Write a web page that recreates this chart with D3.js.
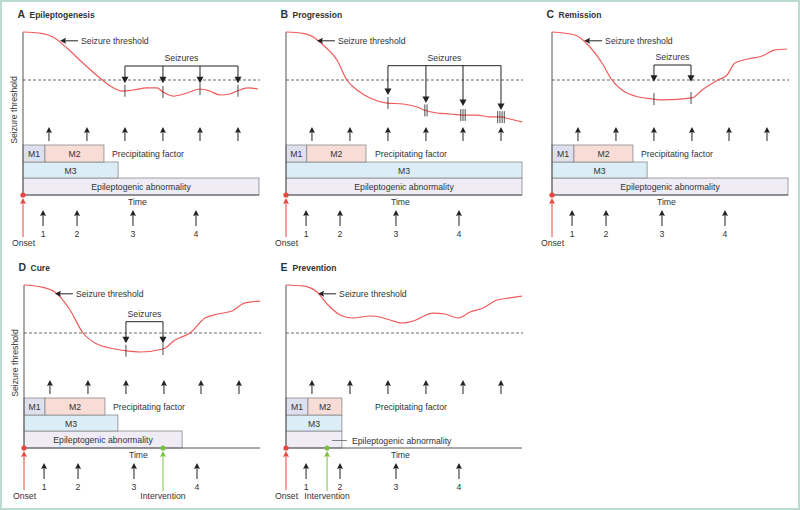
<!DOCTYPE html>
<html><head><meta charset="utf-8">
<script src="https://cdn.jsdelivr.net/npm/d3@7"></script>
<style>
body{margin:0;background:#fff}
svg{display:block}
text{font-family:"Liberation Sans",Arial,sans-serif;fill:#333}
</style>
</head><body>
<svg id="c" width="800" height="510"></svg>
<script>
// ---------- data ----------
const panelLetters = ["A", "B", "C", "D", "E"];
const panelTitles = ["Epileptogenesis", "Progression", "Remission", "Cure", "Prevention"];

// seizure threshold curves: [time (0-100), threshold level (0-10)]
const thresholdA = [[0,10],[7.9,9.86],[12.7,9.48],[18.6,8.33],[25.4,6.77],[32.6,5.21],[37.7,4.27],[41.9,3.85],[46.6,3.96],[52.5,4.17],[56.8,4.17],[59.3,3.75],[63.6,3.33],[69.5,3.65],[75,4.06],[79.2,3.85],[83.5,3.44],[87.7,3.54],[90.7,3.85],[95.3,4.17],[99.6,4.06]];
const thresholdB = [[0,10],[7.2,9.86],[11.4,9.51],[15.7,8.65],[21.6,7.08],[25.8,5],[30.1,3.96],[35.6,3.13],[42.8,2.6],[49.6,2.5],[55.5,2.19],[58.5,1.88],[64,1.56],[69.5,1.46],[74.6,1.35],[80.9,1.35],[86.4,1.15],[90.7,1.15],[94.9,0.94],[100,0.63]];
const thresholdC = [[0,10],[9.7,9.69],[15.3,8.65],[21.2,6.77],[25.4,5],[30.9,3.75],[35.2,3.33],[42.8,3.02],[47,2.92],[59.3,3.13],[63.6,3.96],[70.3,5],[74.2,5.52],[77.5,6.77],[83.1,7.19],[89,7.5],[94.5,8.13],[99.6,8.23]];
const thresholdD = [[0,10],[6.8,9.82],[13.1,9.27],[19.5,7.4],[25,5],[30.1,3.96],[38.6,3.33],[43.6,3.13],[49.2,3.02],[58.9,3.33],[64,4.27],[70.3,5],[76.7,6.56],[82.2,6.98],[88.1,7.29],[93.6,8.13],[100,8.33]];
const thresholdE = [[0,10],[7.2,9.9],[13.1,9.27],[17.8,7.92],[22.9,6.88],[28.4,6.56],[35.6,6.77],[39.8,6.67],[44.1,6.35],[49.2,6.04],[53.8,6.25],[62.3,7.08],[67.4,6.98],[72.9,6.56],[78,7.19],[83.5,7.6],[89.4,8.44],[94.9,8.65],[100,8.85]];

const seizureLevel = 5;

const seizuresA = [43.2, 59.3, 75, 91.1];
const seizureTipsA = [4.66, 4.66, 4.66, 4.66];
const seizuresB = [43.2, 59.3, 75, 91.1];
const seizureTipsB = [3.44, 2.6, 2.29, 1.88];
const seizureTicksB = [1, 2, 3, 4];
const seizuresC = [43.2, 58.9];
const seizureTipsC = [4.83, 4.83];
const seizuresD = [43.2, 58.9];
const seizureTipsD = [3.93, 3.93];
const seizuresE = [];
const seizureTipsE = [];

const precipTimes = [11, 27.1, 43.2, 59.3, 75, 91.1];
const markerTimes = [8.5, 22.9, 46.6, 73.3];
const markerLabels = ["1", "2", "3", "4"];

const m1End = [9.3, 8.8, 9.3, 8.9, 9.3];
const m2End = [34.3, 33.9, 34.3, 34.3, 23.7];
const m3End = [40.3, 100, 40.3, 39.8, 23.7];
const epiEnd = [100, 100, 100, 67, 23.7];
const interventionTime = [null, null, null, 58.9, 17.4];

// ---------- layout ----------
const origins = [[23,32],[286,32],[552,32],[24,285],[286,285]];
const annotT = [15.7, 13.1, 13.6, 13.1, 13.6];
const bracketY = [34, 33.7, 33, 36.7, 0];
const curves = [thresholdA, thresholdB, thresholdC, thresholdD, thresholdE];
const seizureSets = [seizuresA, seizuresB, seizuresC, seizuresD, seizuresE];
const tipSets = [seizureTipsA, seizureTipsB, seizureTipsC, seizureTipsD, seizureTipsE];
const tickSets = [null, seizureTicksB, null, null, null];

const x = d3.scaleLinear().domain([0, 100]).range([0, 236]);
const y = d3.scaleLinear().domain([0, 10]).range([96, 0]);

const BASE = 163;
const FS = 8.7;
const RED = "#e8453c", CURVE = "#ef5b5b", GREEN = "#7cc242", INK = "#222", AX = "#555";

const svg = d3.select("#c");
svg.append("rect").attr("x", 1).attr("y", 1).attr("width", 798).attr("height", 508)
  .attr("fill", "none").attr("stroke", "#bcdccf").attr("stroke-width", 2);

function valAt(data, t) {
  for (let i = 0; i < data.length - 1; i++) {
    const a = data[i], b = data[i + 1];
    if (t >= a[0] && t <= b[0]) return a[1] + (b[1] - a[1]) * (t - a[0]) / (b[0] - a[0]);
  }
  return data[data.length - 1][1];
}

function upArrow(g, px, top, bottom, color, head) {
  head = head || 6;
  g.append("path").attr("d", `M${px},${top} L${px + 3},${top + head} L${px},${top + head - 1} L${px - 3},${top + head} Z`).attr("fill", color);
  g.append("line").attr("x1", px).attr("x2", px).attr("y1", top + head - 1).attr("y2", bottom)
    .attr("stroke", color).attr("stroke-width", 1);
}

panelLetters.forEach((letter, i) => {
  const [ox, oy] = origins[i];
  const g = svg.append("g").attr("transform", `translate(${ox},${oy})`);

  // title
  g.append("text").attr("x", -5.5).attr("y", -14).attr("font-size", 10.5).attr("font-weight", "bold").text(letter);
  g.append("text").attr("x", 6.5).attr("y", -14).attr("font-size", 8.5).attr("font-weight", "bold").text(panelTitles[i]);

  // y-axis label
  if (i === 0 || i === 3) {
    g.append("text").attr("transform", `translate(-6,78) rotate(-90)`).attr("text-anchor", "middle")
      .attr("font-size", FS).text("Seizure threshold");
  }

  // boxes
  const box = (x0, x1, y0, y1, fill) => g.append("rect").attr("x", x(x0)).attr("y", y0)
    .attr("width", x(x1) - x(x0)).attr("height", y1 - y0).attr("fill", fill)
    .attr("stroke", "#8a8a8a").attr("stroke-width", 0.8);
  box(0, epiEnd[i], 146, BASE, "#efecf6");
  box(0, m3End[i], 130, 146, "#dbeef7");
  box(0, m1End[i], 113, 130, "#dfe0ef");
  box(m1End[i], m2End[i], 113, 130, "#f8ddd6");

  const label = (lx, ly, txt, anchor) => g.append("text").attr("x", lx).attr("y", ly)
    .attr("font-size", FS).attr("text-anchor", anchor || "middle").text(txt);
  label(x(m1End[i] / 2), 125, "M1");
  label(x((m1End[i] + m2End[i]) / 2), 125, "M2");
  label(x(m3End[i] / 2), 141.5, "M3");
  label(89, 124.5, "Precipitating factor", "start");
  if (epiEnd[i] > 50) {
    label(x(epiEnd[i] / 2), 158, "Epileptogenic abnormality");
  } else {
    g.append("line").attr("x1", x(epiEnd[i]) - 10).attr("x2", x(epiEnd[i]) + 5).attr("y1", 155.5).attr("y2", 155.5)
      .attr("stroke", "#666").attr("stroke-width", 0.8);
    label(x(epiEnd[i]) + 10, 158.5, "Epileptogenic abnormality", "start");
  }

  // axes
  g.append("line").attr("x1", 0).attr("x2", 0).attr("y1", 0).attr("y2", BASE).attr("stroke", AX).attr("stroke-width", 1);
  g.append("line").attr("x1", 0).attr("x2", x(100)).attr("y1", BASE).attr("y2", BASE).attr("stroke", AX).attr("stroke-width", 1);
  label(x(48.5), 173, "Time");

  // dashed seizure level
  g.append("line").attr("x1", 0).attr("x2", x(100.5)).attr("y1", y(seizureLevel)).attr("y2", y(seizureLevel))
    .attr("stroke", "#444").attr("stroke-width", 0.8).attr("stroke-dasharray", "3,2");

  // curve
  const line = d3.line().x(d => x(d[0])).y(d => y(d[1])).curve(d3.curveMonotoneX);
  g.append("path").attr("d", line(curves[i])).attr("fill", "none").attr("stroke", CURVE).attr("stroke-width", 1.2);

  // seizure threshold annotation
  const ax = x(annotT[i]), ay = 8.8;
  g.append("path").attr("d", `M${ax},${ay} L${ax + 6},${ay - 3} L${ax + 5},${ay} L${ax + 6},${ay + 3} Z`).attr("fill", INK);
  g.append("line").attr("x1", ax + 5).attr("x2", ax + 18).attr("y1", ay).attr("y2", ay).attr("stroke", INK).attr("stroke-width", 1);
  label(ax + 21, ay + 3, "Seizure threshold", "start");

  // seizures
  const sz = seizureSets[i];
  if (sz.length) {
    const by = bracketY[i];
    const sx0 = x(sz[0]), sx1 = x(sz[sz.length - 1]);
    g.append("line").attr("x1", sx0).attr("x2", sx1).attr("y1", by).attr("y2", by).attr("stroke", INK).attr("stroke-width", 1);
    label((sx0 + sx1) / 2, by - 5, "Seizures");
    sz.forEach((t, k) => {
      const sx = x(t), tip = y(tipSets[i][k]);
      g.append("line").attr("x1", sx).attr("x2", sx).attr("y1", by).attr("y2", tip - 5)
        .attr("stroke", INK).attr("stroke-width", 1);
      g.append("path").attr("d", `M${sx - 3.5},${tip - 6.5} L${sx + 3.5},${tip - 6.5} L${sx},${tip} Z`).attr("fill", INK);
      const cy = y(valAt(curves[i], t));
      const n = tickSets[i] ? tickSets[i][k] : 1;
      for (let j = 0; j < n; j++) {
        const dx = (j - (n - 1) / 2) * 2.2;
        g.append("line").attr("x1", sx + dx).attr("x2", sx + dx).attr("y1", cy - 6).attr("y2", cy + 6)
          .attr("stroke", INK).attr("stroke-width", 0.8);
      }
    });
  }

  // precipitating factor arrows
  precipTimes.forEach(t => upArrow(g, x(t), 95, 109, INK));

  // numbered event arrows
  markerTimes.forEach((t, k) => {
    upArrow(g, x(t), 178, 194, INK);
    label(x(t), 204.5, markerLabels[k]);
  });

  // onset
  upArrow(g, 0, 166, 205, RED, 6);
  g.append("circle").attr("cx", 0).attr("cy", BASE).attr("r", 2.6).attr("fill", RED);
  label(0.5, 213.5, "Onset");

  // intervention
  if (interventionTime[i] != null) {
    const ix = x(interventionTime[i]);
    upArrow(g, ix, 166, 206, GREEN, 6);
    g.append("circle").attr("cx", ix).attr("cy", BASE).attr("r", 2.6).attr("fill", GREEN);
    label(ix, 213.5, "Intervention");
  }
});
</script>
</body></html>
